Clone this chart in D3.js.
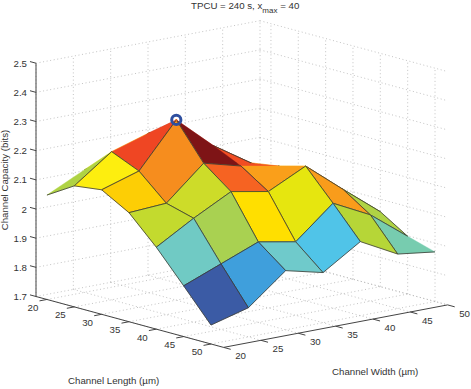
<!DOCTYPE html>
<html>
<head>
<meta charset="utf-8">
<script src="https://cdn.jsdelivr.net/npm/d3@7"></script>
<style>
  html, body { margin: 0; padding: 0; background: #fff; }
  text { font-family: "Liberation Sans", sans-serif; font-size: 9.7px; fill: #333; }
  .grid { fill: none; stroke: #b4b4b4; stroke-width: 0.8; stroke-dasharray: 1 2.6; }
  .axis { fill: none; stroke: #444; stroke-width: 1; }
</style>
</head>
<body>
<svg id="chart" width="471" height="389"></svg>
<script>
const lengths = [20, 25, 30, 35, 40, 45, 50];
const widths = [20, 25, 30, 35, 40, 45, 50];
const zTicks = [1.7, 1.8, 1.9, 2, 2.1, 2.2, 2.3, 2.4, 2.5];

// capacity[i][j]: channel length i, channel width j
const capacity = [
  [2.058, 2.12, 2.15, 2.15, 2.1, 2.03, 1.98],
  [2.115, 2.208, 2.248, 2.2, 2.1, 2.03, 1.97],
  [2.127, 2.167, 2.318, 2.205, 2.122, 2.05, 1.96],
  [2.074, 2.082, 2.195, 2.161, 2.137, 2.07, 1.95],
  [1.981, 2.056, 2.123, 2.099, 2.162, 2.058, 1.957],
  [1.874, 1.925, 1.976, 1.952, 2.06, 1.996, 1.898],
  [1.765, 1.8, 1.903, 1.872, 1.954, 1.887, 1.87]
];

const colorStops = [1.874, 1.925, 1.952, 1.976, 1.99, 2.056, 2.06, 2.074, 2.082, 2.099, 2.115, 2.123, 2.127, 2.161, 2.167, 2.195, 2.208, 2.318];
const colorValues = ["#3b5ba5", "#3f9fdc", "#50c4e8", "#6fcacb", "#72cbb8", "#a9d151", "#b6d637", "#c3da2e", "#cddc29", "#e6e60f", "#fdee0f", "#ffdf00", "#fdce05", "#fa9f1a", "#f68d1e", "#f66322", "#ef4623", "#7e1416"];

// grid edges on the top outline of the surface, these have no dark line
const openEdges = ["0,0-0,1", "0,1-1,1", "1,1-1,2", "1,2-2,2", "2,2-2,3", "2,3-3,3", "2,4-3,4", "3,3-3,4", "3,4-4,4", "5,6-6,6"];

const peak = { length: 30, width: 30, capacity: 2.318 };

const lenLim = [18, 52.3];
const widLim = [20, 50];
const zLim = [1.7, 2.5];

const lenX = d3.scaleLinear().domain(lenLim).range([36, 223.6]);
const lenY = d3.scaleLinear().domain(lenLim).range([296.5, 347.4]);
const widX = d3.scaleLinear().domain(widLim).range([0, 224]);
const widY = d3.scaleLinear().domain(widLim).range([0, -42.5]);
const zY = d3.scaleLinear().domain(zLim).range([0, -233.3]);
const color = d3.scaleLinear().domain(colorStops).range(colorValues);

const project = (l, w, z) => [lenX(l) + widX(w), lenY(l) + widY(w) + zY(z)];
const line = d3.line();

const svg = d3.select("#chart");

//// grid
const grid = svg.append("g");
function addGrid(points) {
  grid.append("path").attr("class", "grid").attr("d", line(points));
}
zTicks.forEach(z => {
  addGrid([project(lenLim[0], widLim[0], z), project(lenLim[0], widLim[1], z)]);
  addGrid([project(lenLim[0], widLim[1], z), project(lenLim[1], widLim[1], z)]);
});
widths.forEach(w => {
  addGrid([project(lenLim[0], w, zLim[0]), project(lenLim[0], w, zLim[1])]);
  addGrid([project(lenLim[0], w, zLim[0]), project(lenLim[1], w, zLim[0])]);
});
lengths.forEach(l => {
  addGrid([project(l, widLim[1], zLim[0]), project(l, widLim[1], zLim[1])]);
  addGrid([project(l, widLim[0], zLim[0]), project(l, widLim[1], zLim[0])]);
});

//// axes
const axes = svg.append("g");
function addAxis(points) {
  axes.append("path").attr("class", "axis").attr("d", line(points));
}
addAxis([project(lenLim[0], widLim[0], zLim[0]), project(lenLim[0], widLim[0], zLim[1])]);
addAxis([project(lenLim[0], widLim[0], zLim[0]), project(lenLim[1], widLim[0], zLim[0])]);
addAxis([project(lenLim[1], widLim[0], zLim[0]), project(lenLim[1], widLim[1], zLim[0])]);

zTicks.forEach(z => {
  const p = project(lenLim[0], widLim[0], z);
  addAxis([p, project(lenLim[0] - 1.1, widLim[0], z)]);
  axes.append("text").attr("x", p[0] - 9).attr("y", p[1] + 3.5)
    .attr("text-anchor", "end").text(z);
});
lengths.forEach(l => {
  const p = project(l, widLim[0], zLim[0]);
  addAxis([p, project(l, widLim[0] - 1, zLim[0])]);
  axes.append("text").attr("x", p[0] - 14).attr("y", p[1] + 11.5)
    .attr("text-anchor", "middle").text(l);
});
widths.forEach(w => {
  const p = project(lenLim[1], w, zLim[0]);
  addAxis([p, project(lenLim[1] + 1.3, w, zLim[0])]);
  axes.append("text").attr("x", p[0] + 17).attr("y", p[1] + 12)
    .attr("text-anchor", "middle").text(w);
});

//// surface, back corner first so the front patches paint over
const surface = svg.append("g");
const edge = (i1, j1, i2, j2) => {
  if (openEdges.includes(`${i1},${j1}-${i2},${j2}`)) return;
  surface.append("path")
    .attr("d", line([
      project(lengths[i1], widths[j1], capacity[i1][j1]),
      project(lengths[i2], widths[j2], capacity[i2][j2])
    ]))
    .attr("fill", "none")
    .attr("stroke", "#3a3a32")
    .attr("stroke-width", 0.8);
};

d3.range(lengths.length - 1).forEach(i => {
  d3.range(widths.length - 2, -1, -1).forEach(j => {
    const c = color(capacity[i][j]);
    const corners = [[i, j], [i, j + 1], [i + 1, j + 1], [i + 1, j]]
      .map(([a, b]) => project(lengths[a], widths[b], capacity[a][b]));
    surface.append("path")
      .attr("d", line(corners) + "Z")
      .attr("fill", c)
      .attr("stroke", c)
      .attr("stroke-width", 0.4);
    edge(i, j, i, j + 1);
    edge(i, j + 1, i + 1, j + 1);
    edge(i + 1, j, i + 1, j + 1);
    edge(i, j, i + 1, j);
  });
});

//// peak marker
const top3d = project(peak.length, peak.width, peak.capacity);
svg.append("circle")
  .attr("cx", top3d[0])
  .attr("cy", top3d[1])
  .attr("r", 4.6)
  .attr("fill", "none")
  .attr("stroke", "#2f4f9f")
  .attr("stroke-width", 3);
svg.append("circle")
  .attr("cx", top3d[0])
  .attr("cy", top3d[1])
  .attr("r", 1)
  .attr("fill", "#e8641e");

//// title and labels
const title = svg.append("text").attr("x", 191).attr("y", 9);
title.append("tspan").text("TPCU = 240 s, x");
title.append("tspan").attr("dy", 4).style("font-size", "8px").text("max");
title.append("tspan").attr("dy", -4).text(" = 40");

svg.append("text")
  .attr("transform", "translate(8,180) rotate(-90)")
  .attr("text-anchor", "middle")
  .text("Channel Capacity (bits)");
svg.append("text").attr("x", 68).attr("y", 384).text("Channel Length (µm)");
svg.append("text").attr("x", 332).attr("y", 375).text("Channel Width (µm)");
</script>
</body>
</html>
